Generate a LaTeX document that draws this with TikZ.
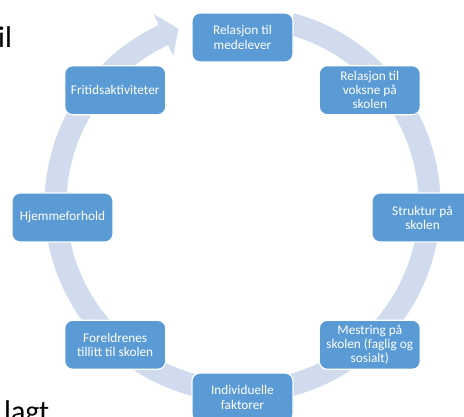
\documentclass[tikz,border=0pt]{standalone}
\usepackage{fontspec}
\setmainfont{Carlito}
\usetikzlibrary{calc}
\definecolor{boksblaa}{HTML}{5B9BD5}
\definecolor{ringblaa}{HTML}{D0DCEE}
\begin{document}
\begin{tikzpicture}[x=1pt,y=1pt]
\tikzset{boks/.style={draw=white, line width=1.2pt, fill=boksblaa, rounded corners=8pt, minimum width=101pt, minimum height=49pt, align=center, text=white, inner sep=2pt, font=\fontsize{13.3}{14.2}\selectfont}}
\tikzset{bruddtekst/.style={inner sep=0pt, anchor=base west, font=\fontsize{30}{36}\selectfont}}
\useasboundingbox (0,0) rectangle (464,416);
\clip (0,0) rectangle (464,416);
\coordinate (R) at (242.5,211.5);
\coordinate (M) at (242.5,198.5);
% sirkelpil bak boksene
\fill[ringblaa] ($(R)+(75:198pt)$) arc[start angle=75, end angle=-245, radius=198pt]
  -- ($(R)+(115:210pt)$) -- ($(R)+(110:187pt)$) -- ($(R)+(115:164pt)$)
  -- ($(R)+(115:176pt)$) arc[start angle=115, end angle=435, radius=176pt] -- cycle;
\node[boks] (F1) at ($(M)+(90:180pt)$) {Relasjon til\\medelever};
\node[boks] (F2) at ($(M)+(45:180pt)$) {Relasjon til\\voksne på\\skolen};
\node[boks] (F3) at ($(M)+(0:180pt)$) {Struktur på\\skolen};
\node[boks] (F4) at ($(M)+(-45:180pt)$) {Mestring på\\skolen (faglig og\\sosialt)};
\node[boks] (F5) at ($(M)+(-90:180pt)$) {Individuelle\\faktorer};
\node[boks] (F6) at ($(M)+(-135:180pt)$) {Foreldrenes\\tillitt til skolen};
\node[boks] (F7) at ($(M)+(180:180pt)$) {Hjemmeforhold};
\node[boks] (F8) at ($(M)+(135:180pt)$) {Fritidsaktiviteter};
\node[bruddtekst] (T1) at (-2,368) {il};
\node[bruddtekst] (T2) at (4,-5) {lagt};
\end{tikzpicture}
\end{document}
